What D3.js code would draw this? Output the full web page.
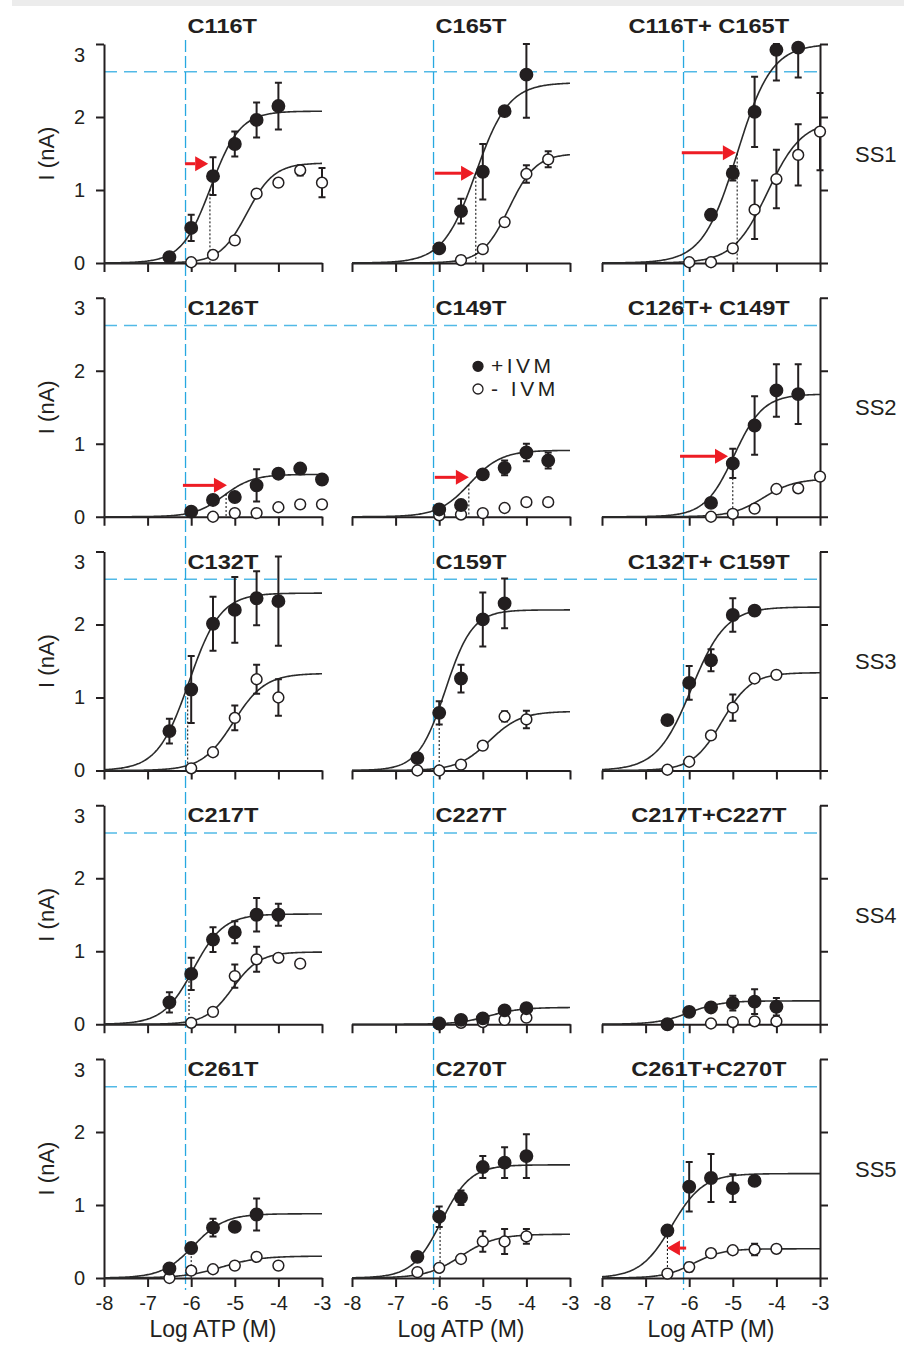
<!DOCTYPE html>
<html>
<head>
<meta charset="utf-8">
<title>ATP dose-response, +/- IVM</title>
<script src="https://cdn.jsdelivr.net/npm/d3@7"></script>
<style>
  body { margin: 0; background: #fff; }
  svg text { font-family: "Liberation Sans", Arial, Helvetica, sans-serif; fill: #231f20; }
  .axis path, .axis line { stroke: #231f20; stroke-width: 2; }
  .axis text { font-size: 20px; }
</style>
</head>
<body>
<svg id="chart"></svg>
<script>
/* ============================================
   DATA
   points: [log ATP (M), I (nA), error]
   fits:   [top (nA), log EC50, Hill slope]
   ============================================ */

const titles = [
  'C116T', 'C165T', 'C116T+ C165T',
  'C126T', 'C149T', 'C126T+ C149T',
  'C132T', 'C159T', 'C132T+ C159T',
  'C217T', 'C227T', 'C217T+C227T',
  'C261T', 'C270T', 'C261T+C270T'
];
const rowLabels = ['SS1', 'SS2', 'SS3', 'SS4', 'SS5'];
const xTicks = [-8, -7, -6, -5, -4, -3];
const yTicks = [0, 1, 2, 3];

const plusIVM = [
  [[-6.5, 0.08, 0], [-6, 0.48, 0.18], [-5.5, 1.19, 0.26], [-5, 1.63, 0.17], [-4.5, 1.96, 0.24], [-4, 2.15, 0.32]],
  [[-6, 0.2, 0], [-5.5, 0.71, 0.17], [-5, 1.25, 0.38], [-4.5, 2.08, 0], [-4, 2.58, 0.59]],
  [[-5.5, 0.66, 0.07], [-5, 1.23, 0.1], [-4.5, 2.07, 0.48], [-4, 2.92, 0.42], [-3.5, 2.95, 0.41]],
  [[-6, 0.07, 0], [-5.5, 0.23, 0], [-5, 0.27, 0], [-4.5, 0.43, 0.22], [-4, 0.59, 0.06], [-3.5, 0.66, 0], [-3, 0.51, 0]],
  [[-6, 0.1, 0], [-5.5, 0.16, 0], [-5, 0.58, 0.06], [-4.5, 0.67, 0.1], [-4, 0.88, 0.12], [-3.5, 0.77, 0.11]],
  [[-5.5, 0.19, 0.05], [-5, 0.73, 0.2], [-4.5, 1.25, 0.4], [-4, 1.73, 0.36], [-3.5, 1.68, 0.41]],
  [[-6.5, 0.54, 0.17], [-6, 1.11, 0.46], [-5.5, 2.01, 0.37], [-5, 2.2, 0.45], [-4.5, 2.36, 0.37], [-4, 2.32, 0.61]],
  [[-6.5, 0.17, 0.05], [-6, 0.79, 0.16], [-5.5, 1.26, 0.19], [-5, 2.07, 0.37], [-4.5, 2.29, 0.34]],
  [[-6.5, 0.69, 0], [-6, 1.2, 0.23], [-5.5, 1.51, 0.15], [-5, 2.13, 0.23], [-4.5, 2.19, 0]],
  [[-6.5, 0.3, 0.14], [-6, 0.69, 0.22], [-5.5, 1.16, 0.17], [-5, 1.26, 0.15], [-4.5, 1.5, 0.23], [-4, 1.5, 0.15]],
  [[-6, 0.01, 0], [-5.5, 0.06, 0], [-5, 0.08, 0], [-4.5, 0.19, 0], [-4, 0.22, 0]],
  [[-6.5, 0, 0], [-6, 0.17, 0], [-5.5, 0.23, 0], [-5, 0.29, 0.1], [-4.5, 0.31, 0.17], [-4, 0.24, 0.12]],
  [[-6.5, 0.13, 0], [-6, 0.41, 0.07], [-5.5, 0.69, 0.12], [-5, 0.7, 0], [-4.5, 0.87, 0.22]],
  [[-6.5, 0.29, 0], [-6, 0.84, 0.14], [-5.5, 1.1, 0.1], [-5, 1.52, 0.15], [-4.5, 1.58, 0.21], [-4, 1.67, 0.3]],
  [[-6.5, 0.65, 0.06], [-6, 1.25, 0.34], [-5.5, 1.37, 0.33], [-5, 1.23, 0.19], [-4.5, 1.33, 0]]
];

const minusIVM = [
  [[-6, 0.01, 0], [-5.5, 0.11, 0], [-5, 0.31, 0], [-4.5, 0.95, 0.05], [-4, 1.1, 0.05], [-3.5, 1.27, 0.07], [-3, 1.1, 0.2]],
  [[-5.5, 0.04, 0], [-5, 0.19, 0], [-4.5, 0.56, 0], [-4, 1.22, 0.12], [-3.5, 1.42, 0.11]],
  [[-6, 0.01, 0], [-5.5, 0.01, 0], [-5, 0.2, 0.05], [-4.5, 0.73, 0.4], [-4, 1.15, 0.4], [-3.5, 1.48, 0.42], [-3, 1.8, 0.53]],
  [[-5.5, 0, 0], [-5, 0.05, 0], [-4.5, 0.05, 0], [-4, 0.13, 0], [-3.5, 0.17, 0], [-3, 0.17, 0]],
  [[-6, 0.02, 0], [-5.5, 0.03, 0], [-5, 0.05, 0], [-4.5, 0.12, 0], [-4, 0.2, 0], [-3.5, 0.2, 0]],
  [[-5.5, 0, 0], [-5, 0.04, 0], [-4.5, 0.11, 0], [-4, 0.38, 0.05], [-3.5, 0.39, 0], [-3, 0.55, 0]],
  [[-6, 0.03, 0], [-5.5, 0.25, 0], [-5, 0.72, 0.17], [-4.5, 1.25, 0.2], [-4, 1.0, 0.25]],
  [[-6.5, 0, 0], [-6, 0, 0], [-5.5, 0.08, 0], [-5, 0.34, 0], [-4.5, 0.74, 0.07], [-4, 0.7, 0.12]],
  [[-6.5, 0.01, 0], [-6, 0.12, 0], [-5.5, 0.48, 0.04], [-5, 0.86, 0.18], [-4.5, 1.26, 0], [-4, 1.31, 0]],
  [[-6, 0.02, 0], [-5.5, 0.17, 0], [-5, 0.66, 0.16], [-4.5, 0.89, 0.17], [-4, 0.91, 0], [-3.5, 0.83, 0]],
  [[-6, 0, 0], [-5.5, 0.02, 0], [-5, 0.03, 0], [-4.5, 0.06, 0], [-4, 0.09, 0]],
  [[-5.5, 0.01, 0], [-5, 0.03, 0], [-4.5, 0.04, 0], [-4, 0.04, 0]],
  [[-6.5, 0, 0], [-6, 0.1, 0], [-5.5, 0.12, 0], [-5, 0.17, 0], [-4.5, 0.29, 0], [-4, 0.17, 0]],
  [[-6.5, 0.08, 0], [-6, 0.14, 0], [-5.5, 0.26, 0], [-5, 0.5, 0.14], [-4.5, 0.5, 0.17], [-4, 0.57, 0.1]],
  [[-6.5, 0.06, 0], [-6, 0.15, 0.06], [-5.5, 0.34, 0], [-5, 0.38, 0], [-4.5, 0.39, 0.08], [-4, 0.4, 0]]
];

const plusFit = [
  [2.08, -5.55, 1.3], [2.47, -5.16, 1.15], [3.0, -4.9, 1.1],
  [0.58, -5.25, 1.3], [0.91, -5.3, 1.2], [1.68, -4.97, 1.3],
  [2.43, -6.05, 1.2], [2.2, -5.86, 1.4], [2.24, -5.95, 1.1],
  [1.51, -5.95, 1.25], [0.23, -4.85, 1.2], [0.32, -6.0, 1.2],
  [0.88, -5.95, 1.2], [1.55, -5.95, 1.3], [1.43, -6.4, 1.2]
];
const minusFit = [
  [1.37, -4.72, 1.4], [1.5, -4.4, 1.4], [1.95, -4.2, 1.1],
  null, null, [0.52, -4.3, 1.2],
  [1.33, -5.03, 1.2], [0.81, -4.85, 1.2], [1.34, -5.25, 1.3],
  [0.99, -5.05, 1.4], null, null,
  [0.3, -5.3, 1.0], [0.6, -5.5, 1.1], [0.4, -5.9, 1.3]
];

// red arrows: [panel, from log ATP, to log ATP, I (nA)]
const arrows = [
  [0, -6.14, -5.61, 1.36], [1, -6.1, -5.2, 1.23], [2, -6.17, -4.93, 1.51],
  [3, -6.19, -5.18, 0.43], [4, -6.1, -5.32, 0.54], [5, -6.21, -5.11, 0.83],
  [14, -6.07, -6.51, 0.41]
];
// dotted drop lines from the +IVM fit: [panel, log ATP]
const dropLines = [
  [0, -5.57], [1, -5.16], [2, -4.9], [3, -5.2], [4, -5.32], [5, -5.0],
  [6, -6.08], [7, -6.0], [9, -6.05], [12, -6.0], [13, -5.98], [14, -6.5]
];
// blue reference lines
const refLogATP = -6.13;
const refCurrent = 2.62;

/* ============================================
   LAYOUT
   ============================================ */
const COL_X = [104, 352, 602];
const PANEL_W = 218;
const ROW_BASE = 263;
const ROW_STEP = 253.75;
const PANEL_H = 219;
const INK = '#231f20';
const RED = '#ed1c24';
const BLUE = '#27a8e0';

const svg = d3.select('#chart').attr('width', 904).attr('height', 1346);

svg.append('rect').attr('x', 12).attr('y', 0).attr('width', 892).attr('height', 6).attr('fill', '#ececec');

const xFor = c => d3.scaleLinear().domain([-8, -3]).range([COL_X[c], COL_X[c] + PANEL_W]);
const yFor = r => d3.scaleLinear().domain([0, 3]).range([ROW_BASE + r * ROW_STEP, ROW_BASE + r * ROW_STEP - PANEL_H]);

const hill = p => x => p[0] / (1 + Math.pow(10, p[2] * (p[1] - x)));
const sampleX = d3.range(0, 201).map(k => -8 + k * 0.025);

// Blue dashed guides (behind everything)
const guides = svg.append('g');
[0, 1, 2].forEach(c => {
  const x = xFor(c)(refLogATP);
  guides.append('line')
    .attr('x1', x).attr('x2', x).attr('y1', 40).attr('y2', 1290)
    .attr('stroke', BLUE).attr('stroke-width', 1.3).attr('stroke-dasharray', '12,4');
});
rowLabels.forEach((_, r) => {
  const y = yFor(r)(refCurrent);
  guides.append('line')
    .attr('x1', xFor(0)(-8)).attr('x2', xFor(2)(-3)).attr('y1', y).attr('y2', y)
    .attr('stroke', BLUE).attr('stroke-opacity', 0.8).attr('stroke-width', 1.6).attr('stroke-dasharray', '13,7');
});

/* ============================================
   PANELS
   ============================================ */
titles.forEach((title, i) => {
  const r = Math.floor(i / 3), c = i % 3;
  const x = xFor(c), y = yFor(r);
  const g = svg.append('g');

  // x axis (labels only on bottom row)
  g.append('g')
    .attr('class', 'axis')
    .attr('transform', `translate(0,${y(0)})`)
    .call(d3.axisBottom(x).tickValues(xTicks).tickSize(9).tickSizeOuter(0).tickPadding(9)
      .tickFormat(r === 4 ? d => String(d) : ''));

  if (c === 0) {
    const ax = g.append('g')
      .attr('class', 'axis')
      .attr('transform', `translate(${x(-8)},0)`)
      .call(d3.axisLeft(y).tickValues(yTicks).tickSize(8).tickSizeOuter(0).tickPadding(11).tickFormat(d => String(d)));
    ax.selectAll('.tick text').filter(d => d === 3).attr('dy', '0.85em');
    g.append('text')
      .attr('transform', `translate(54,${y(1.5)}) rotate(-90)`)
      .attr('text-anchor', 'middle')
      .attr('font-size', 22)
      .text('I (nA)');
  }
  if (c === 2) {
    g.append('g')
      .attr('class', 'axis')
      .attr('transform', `translate(${x(-3)},0)`)
      .call(d3.axisRight(y).tickValues(yTicks).tickSize(8).tickSizeOuter(0).tickFormat(''));
    g.append('text')
      .attr('x', 855).attr('y', y(1.5) + 8)
      .attr('font-size', 22)
      .text(rowLabels[r]);
  }
  if (r === 4) {
    g.append('text')
      .attr('x', x(-5.5)).attr('y', 1337)
      .attr('text-anchor', 'middle')
      .attr('font-size', 23)
      .text('Log ATP (M)');
  }

  // title
  const ty = r === 0 ? y(3) - 11 : y(3) + 17;
  const tx = c === 2 ? x(-5.55) : x(refLogATP) + 2;
  g.append('text')
    .attr('transform', `translate(${tx},${ty}) scale(1.18,1)`)
    .attr('text-anchor', c === 2 ? 'middle' : 'start')
    .attr('font-size', 20)
    .attr('font-weight', 'bold')
    .text(title);

  // fitted curves
  const line = d3.line().x(d => x(d[0])).y(d => y(d[1]));
  [minusFit[i], plusFit[i]].forEach(p => {
    if (!p) return;
    const f = hill(p);
    g.append('path')
      .datum(sampleX.map(v => [v, f(v)]))
      .attr('d', line)
      .attr('fill', 'none')
      .attr('stroke', '#2b2b2b')
      .attr('stroke-width', 1.6);
  });

  // dotted drop line
  dropLines.filter(d => d[0] === i).forEach(d => {
    g.append('line')
      .attr('x1', x(d[1])).attr('x2', x(d[1]))
      .attr('y1', y(hill(plusFit[i])(d[1]))).attr('y2', y(0))
      .attr('stroke', '#000').attr('stroke-width', 1).attr('stroke-dasharray', '2,2');
  });

  // error bars + points (open first, filled on top)
  [[minusIVM[i], false], [plusIVM[i], true]].forEach(([pts, filled]) => {
    const eb = pts.filter(d => d[2] > 0);
    g.selectAll(null).data(eb).join('path')
      .attr('d', d => {
        const xx = x(d[0]);
        const lo = y(Math.max(0, d[1] - d[2])), hi = y(Math.min(3, d[1] + d[2]));
        return `M${xx},${lo}V${hi}M${xx - 3.5},${lo}H${xx + 3.5}M${xx - 3.5},${hi}H${xx + 3.5}`;
      })
      .attr('fill', 'none').attr('stroke', INK).attr('stroke-width', 2);
    g.selectAll(null).data(pts).join('circle')
      .attr('cx', d => x(d[0])).attr('cy', d => y(d[1]))
      .attr('r', filled ? 6.2 : 5.4)
      .attr('fill', filled ? INK : '#fff')
      .attr('stroke', INK).attr('stroke-width', 1.5);
  });

  // red arrows
  arrows.filter(d => d[0] === i).forEach(d => {
    const x0 = x(d[1]), x1 = x(d[2]), yy = y(d[3]);
    const dir = Math.sign(x1 - x0), head = 13;
    g.append('line')
      .attr('x1', x0).attr('x2', x1 - dir * head).attr('y1', yy).attr('y2', yy)
      .attr('stroke', RED).attr('stroke-width', 3);
    g.append('path')
      .attr('d', `M${x1},${yy}L${x1 - dir * head},${yy - 7.5}L${x1 - dir * head},${yy + 7.5}Z`)
      .attr('fill', RED);
  });

  // legend in C149T panel
  if (i === 4) {
    const lx = x(-5.11);
    [['+IVM', true, 2.06], ['- IVM', false, 1.75]].forEach(([label, filled, v]) => {
      g.append('circle')
        .attr('cx', lx).attr('cy', y(v)).attr('r', 5)
        .attr('fill', filled ? INK : '#fff').attr('stroke', INK).attr('stroke-width', 1.3);
      g.append('text')
        .attr('x', lx + 13).attr('y', y(v) + 7)
        .attr('font-size', 21).attr('letter-spacing', 3.5)
        .text(label);
    });
  }
});
</script>
</body>
</html>
